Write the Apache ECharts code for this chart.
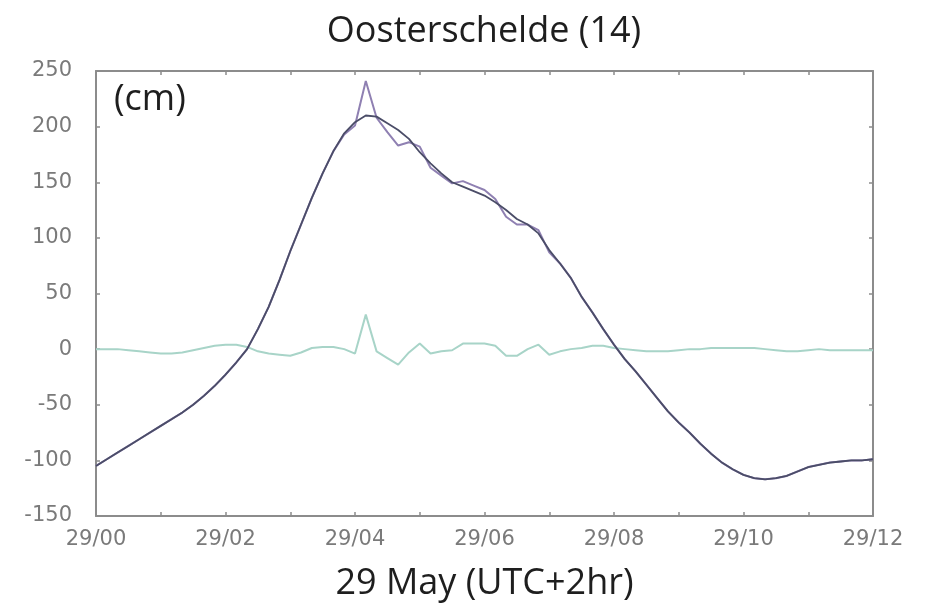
<!DOCTYPE html>
<html>
<head>
<meta charset="utf-8">
<script src="https://cdn.jsdelivr.net/npm/echarts@6/dist/echarts.min.js"></script>
<style>
  html, body { margin: 0; padding: 0; background: #fff; }
  #chart { width: 926px; height: 609px; }
</style>
</head>
<body>
<div id="chart"></div>
<script>
// Water level at Oosterschelde (14), 29 May, sampled every 10 minutes (hours since 29/00)
const hours = [
  0, 0.1667, 0.3333, 0.5, 0.6667, 0.8333, 1, 1.1667, 1.3333, 1.5, 1.6667, 1.8333,
  2, 2.1667, 2.3333, 2.5, 2.6667, 2.8333, 3, 3.1667, 3.3333, 3.5, 3.6667, 3.8333,
  4, 4.1667, 4.3333, 4.5, 4.6667, 4.8333, 5, 5.1667, 5.3333, 5.5, 5.6667, 5.8333,
  6, 6.1667, 6.3333, 6.5, 6.6667, 6.8333, 7, 7.1667, 7.3333, 7.5, 7.6667, 7.8333,
  8, 8.1667, 8.3333, 8.5, 8.6667, 8.8333, 9, 9.1667, 9.3333, 9.5, 9.6667, 9.8333,
  10, 10.1667, 10.3333, 10.5, 10.6667, 10.8333, 11, 11.1667, 11.3333, 11.5, 11.6667, 11.8333, 12
];

// Astronomical tide (cm)
const tide = [
  -105, -99, -93, -87, -81, -75, -69, -63, -57, -50, -42, -33,
  -23, -12, 0, 18, 38, 62, 88, 112, 136, 158, 178, 194,
  204, 210, 209, 203, 197, 189, 177, 167, 158, 150, 146, 142,
  138, 132, 125, 117, 112, 104, 89, 77, 64, 47, 33, 18,
  4, -9, -20, -32, -44, -56, -66, -75, -85, -94, -102, -108,
  -113, -116, -117, -116, -114, -110, -106, -104, -102, -101, -100, -100, -99
];

// Observed water level (cm)
const observed = [
  -105, -99, -93, -87, -81, -75, -69, -63, -57, -50, -42, -33,
  -23, -12, 0, 18, 38, 62, 88, 112, 136, 158, 178, 193,
  201, 241, 208, 195, 183, 186, 182, 163, 156, 149, 151, 147,
  143, 135, 119, 112, 112, 107, 87, 77, 64, 47, 33, 18,
  4, -9, -20, -32, -44, -56, -66, -75, -85, -94, -102, -108,
  -113, -116, -117, -116, -114, -110, -106, -104, -102, -101, -100, -100, -99
];

// Surge: observed minus astronomical (cm)
const surge = [
  0, 0, 0, -1, -2, -3, -4, -4, -3, -1, 1, 3,
  4, 4, 2, -2, -4, -5, -6, -3, 1, 2, 2, 0,
  -4, 31, -2, -8, -14, -3, 5, -4, -2, -1, 5, 5,
  5, 3, -6, -6, 0, 4, -5, -2, 0, 1, 3, 3,
  1, 0, -1, -2, -2, -2, -1, 0, 0, 1, 1, 1,
  1, 1, 0, -1, -2, -2, -1, 0, -1, -1, -1, -1, -1
];

const xTickLabels = ['29/00', '29/02', '29/04', '29/06', '29/08', '29/10', '29/12'];
const yTicks = [-150, -100, -50, 0, 50, 100, 150, 200, 250];

const pair = (ys) => hours.map((h, i) => [h, ys[i]]);

const frame = { show: true, onZero: false, lineStyle: { color: '#8c8c8c', width: 2 } };
const tickIn = { show: true, inside: true, length: 4, lineStyle: { color: '#8c8c8c', width: 1.5 } };
const labelFont = { fontFamily: 'DejaVu Sans', fontSize: 21, color: '#7a7a7a' };

const chart = echarts.init(document.getElementById('chart'), null, { renderer: 'canvas' });
chart.setOption({
  animation: false,
  backgroundColor: '#ffffff',
  title: {
    text: 'Oosterschelde (14)',
    left: 479,
    textAlign: 'center',
    top: 9,
    textStyle: { fontFamily: 'Open Sans', fontSize: 36, fontWeight: 'normal', color: '#1e1e1e' }
  },
  graphic: [{
    type: 'text',
    left: 114,
    top: 82,
    style: { text: '(cm)', fontFamily: 'Open Sans', fontSize: 36, fill: '#1e1e1e' }
  }],
  grid: { left: 96, right: 53, top: 71, bottom: 93, containLabel: false },
  xAxis: [{
    type: 'value',
    min: 0, max: 12, interval: 1,
    position: 'bottom',
    axisLine: frame,
    axisTick: tickIn,
    splitLine: { show: false },
    axisLabel: Object.assign({
      margin: 13,
      formatter: (v) => (v % 2 === 0 ? xTickLabels[v / 2] : '')
    }, labelFont),
    name: '29 May (UTC+2hr)',
    nameLocation: 'middle',
    nameGap: 50,
    nameTextStyle: { fontFamily: 'Open Sans', fontSize: 36, color: '#1e1e1e', verticalAlign: 'top' }
  }, {
    type: 'value',
    min: 0, max: 12, interval: 1,
    position: 'top',
    axisLine: frame,
    axisTick: tickIn,
    axisLabel: { show: false },
    splitLine: { show: false }
  }],
  yAxis: [{
    type: 'value',
    min: yTicks[0], max: yTicks[yTicks.length - 1], interval: 50,
    position: 'left',
    axisLine: frame,
    axisTick: tickIn,
    splitLine: { show: false },
    axisLabel: Object.assign({ margin: 24 }, labelFont)
  }, {
    type: 'value',
    min: yTicks[0], max: yTicks[yTicks.length - 1], interval: 50,
    position: 'right',
    axisLine: frame,
    axisTick: tickIn,
    axisLabel: { show: false },
    splitLine: { show: false }
  }],
  series: [
    {
      name: 'surge', type: 'line', data: pair(surge), showSymbol: false, z: 2,
      lineStyle: { color: '#a8d4c8', width: 2 }
    },
    {
      name: 'observed', type: 'line', data: pair(observed), showSymbol: false, z: 3,
      lineStyle: { color: '#8f80b2', width: 2 }
    },
    {
      name: 'tide', type: 'line', data: pair(tide), showSymbol: false, z: 4,
      lineStyle: { color: '#4b4d68', width: 1.8 }
    }
  ]
});
</script>
</body>
</html>
